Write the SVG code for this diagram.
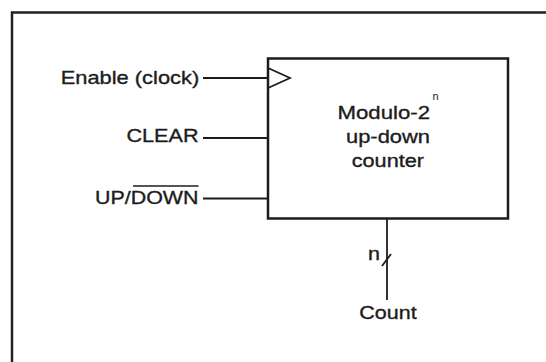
<svg xmlns="http://www.w3.org/2000/svg" width="546" height="362" viewBox="0 0 546 362">
  <style>
    .t { font-family: "Liberation Sans", Arial, sans-serif; font-size: 19px; fill: #1c1c1c; stroke: #1c1c1c; stroke-width: 0.35; }
    .sup { font-family: "Liberation Sans", Arial, sans-serif; font-size: 11px; fill: #1c1c1c; }
    .w { stroke: #1c1c1c; fill: none; stroke-width: 1.8; }
  </style>
  <rect x="0" y="0" width="546" height="362" fill="#ffffff"/>
  <g id="frame">
    <path d="M12,362 V12.5 H546" fill="none" stroke="#222" stroke-width="2.5"/>
  </g>
  <g id="counter">
    <rect x="268" y="58.5" width="240" height="160" fill="#ffffff" stroke="#1c1c1c" stroke-width="2.5"/>
    <polyline points="268,68 290,78 268,88" class="w" stroke-width="2"/>
    <text class="t" x="337.5" y="118.5" textLength="92.5" lengthAdjust="spacingAndGlyphs">Modulo-2</text>
    <text class="sup" x="432.5" y="100">n</text>
    <text class="t" x="346" y="143" textLength="84" lengthAdjust="spacingAndGlyphs">up-down</text>
    <text class="t" x="351.7" y="166.5" textLength="72.3" lengthAdjust="spacingAndGlyphs">counter</text>
  </g>
  <g id="enable">
    <text class="t" x="60.7" y="84" textLength="138.5" lengthAdjust="spacingAndGlyphs">Enable (clock)</text>
  </g>
  <g id="clear">
    <text class="t" x="126.5" y="142" textLength="72" lengthAdjust="spacingAndGlyphs">CLEAR</text>
  </g>
  <g id="updown">
    <text class="t" x="95" y="203.5" textLength="103.5" lengthAdjust="spacingAndGlyphs">UP/DOWN</text>
    <line x1="133" y1="186" x2="198.5" y2="186" stroke="#1c1c1c" stroke-width="1.5"/>
  </g>
  <g id="count">
    <text class="t" x="359.3" y="318.5" textLength="57.4" lengthAdjust="spacingAndGlyphs">Count</text>
  </g>
  <g id="connectors">
    <line class="w" x1="203" y1="78" x2="268" y2="78"/>
    <line class="w" x1="203" y1="138" x2="268" y2="138"/>
    <line class="w" x1="203" y1="198.5" x2="268" y2="198.5" stroke-width="4"/>
    <line class="w" x1="387" y1="218" x2="387" y2="300" stroke-width="2"/>
    <line class="w" x1="382" y1="266" x2="391" y2="254" stroke-width="1.6"/>
  </g>
  <g id="bus-width">
    <text class="t" x="368" y="259.5" font-size="20" textLength="12" lengthAdjust="spacingAndGlyphs">n</text>
  </g>
</svg>
